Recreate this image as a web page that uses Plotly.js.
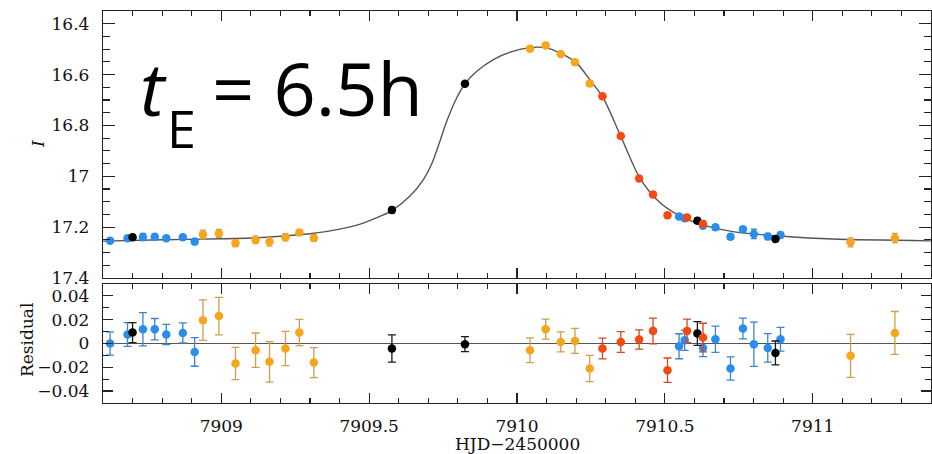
<!DOCTYPE html>
<html><head><meta charset="utf-8">
<script src="https://cdn.plot.ly/plotly-3.0.1.min.js"></script>
<style>html,body{margin:0;padding:0;background:#fff}#chart{width:932px;height:454px}</style>
</head><body><div id="chart"></div>
<script>
// ---- data ----
const blueHJD = [7908.624, 7908.683, 7908.735, 7908.775, 7908.814, 7908.870, 7908.910, 7910.548, 7910.567, 7910.629, 7910.671, 7910.722, 7910.764, 7910.801, 7910.848, 7910.891];
const blueMag = [17.254, 17.244, 17.239, 17.238, 17.244, 17.240, 17.257, 17.158, 17.165, 17.195, 17.201, 17.238, 17.208, 17.227, 17.237, 17.231];
const blueRes = [0.000, 0.0076, 0.012, 0.012, 0.0076, 0.0089, -0.0071, -0.0023, 0.0028, -0.0037, 0.0036, -0.021, 0.0126, -0.0006, -0.0037, 0.0036];
const blueErr = [0.0098, 0.010, 0.014, 0.009, 0.0085, 0.0085, 0.012, 0.0105, 0.0085, 0.0073, 0.011, 0.0098, 0.0087, 0.0186, 0.012, 0.010];

const blackHJD = [7908.700, 7909.577, 7909.824, 7910.610, 7910.874];
const blackMag = [17.240, 17.133, 16.636, 17.175, 17.247];
const blackRes = [0.0092, -0.0042, -0.0006, 0.0084, -0.0079];
const blackErr = [0.0084, 0.0115, 0.0063, 0.010, 0.010];

const orangeHJD = [7908.938, 7908.992, 7909.048, 7909.116, 7909.163, 7909.217, 7909.264, 7909.313, 7910.044, 7910.097, 7910.148, 7910.196, 7910.246, 7911.128, 7911.278];
const orangeMag = [17.229, 17.225, 17.263, 17.250, 17.258, 17.240, 17.221, 17.243, 16.498, 16.486, 16.519, 16.552, 16.635, 17.260, 17.243];
const orangeRes = [0.0196, 0.023, -0.0168, -0.0056, -0.0154, -0.0042, 0.0092, -0.016, -0.0056, 0.012, 0.0013, 0.0022, -0.021, -0.0104, 0.0089];
const orangeErr = [0.017, 0.0157, 0.0136, 0.0144, 0.017, 0.0144, 0.011, 0.0126, 0.0104, 0.0084, 0.0084, 0.0105, 0.011, 0.018, 0.018];

const redHJD = [7910.289, 7910.351, 7910.413, 7910.460, 7910.509, 7910.575, 7910.629];
const redMag = [16.685, 16.842, 17.009, 17.072, 17.153, 17.162, 17.188];
const redRes = [-0.0042, 0.0013, 0.0034, 0.0106, -0.0224, 0.0106, 0.005];
const redErr = [0.0087, 0.0087, 0.0081, 0.0108, 0.0102, 0.0098, 0.012];

const modelHJD = [7908.60, 7908.80, 7909.00, 7909.10, 7909.20, 7909.30, 7909.40, 7909.47, 7909.54, 7909.577, 7909.639, 7909.684, 7909.712, 7909.734, 7909.763, 7909.796, 7909.824, 7909.864, 7909.920, 7909.977, 7910.044, 7910.100, 7910.145, 7910.201, 7910.246, 7910.291, 7910.348, 7910.415, 7910.483, 7910.561, 7910.618, 7910.730, 7910.899, 7911.068, 7911.400];
const modelMag = [17.255, 17.250, 17.246, 17.243, 17.236, 17.226, 17.208, 17.188, 17.156, 17.135, 17.077, 17.012, 16.950, 16.880, 16.782, 16.692, 16.636, 16.587, 16.541, 16.512, 16.494, 16.495, 16.515, 16.554, 16.620, 16.691, 16.835, 17.006, 17.103, 17.162, 17.188, 17.218, 17.236, 17.247, 17.254];

const magTicks = [16.4, 16.6, 16.8, 17, 17.2, 17.4];
const resTicks = [0.04, 0.02, 0, -0.02, -0.04];
const hjdTicks = [7909, 7909.5, 7910, 7910.5, 7911];

// ---- styles ----
const sets = [
  {x: blueHJD, m: blueMag, r: blueRes, e: blueErr, c: '#2b8deb', ec: '#3d84cc'},
  {x: blackHJD, m: blackMag, r: blackRes, e: blackErr, c: '#000000', ec: '#1a1a1a'},
  {x: orangeHJD, m: orangeMag, r: orangeRes, e: orangeErr, c: '#f7a51c', ec: '#cf9e4e'},
  {x: redHJD, m: redMag, r: redRes, e: redErr, c: '#f24a12', ec: '#c94b2a'}
];

const traces = [{
  x: modelHJD, y: modelMag, xaxis: 'x', yaxis: 'y', mode: 'lines',
  line: {color: '#555555', width: 1.4, shape: 'spline', smoothing: 0.8},
  hoverinfo: 'skip', showlegend: false
}];
sets.forEach(s => {
  traces.push({x: s.x, y: s.m, xaxis: 'x', yaxis: 'y', mode: 'markers', type: 'scatter',
    marker: {color: s.c, size: 8.5, line: {width: 0}},
    error_y: {type: 'data', array: s.e, visible: true, color: s.ec, thickness: 1.3, width: 3},
    showlegend: false});
  traces.push({x: s.x, y: s.r, xaxis: 'x2', yaxis: 'y2', mode: 'markers', type: 'scatter',
    marker: {color: s.c, size: 8.5, line: {width: 0}},
    error_y: {type: 'data', array: s.e, visible: true, color: s.ec, thickness: 1.3, width: 4},
    showlegend: false});
});

const tickFont = {family: 'DejaVu Serif', size: 17, color: '#111'};
const L = 103, R = 931, T = 11, B = 403;
const px = v => (v - L) / (R - L);
const py = v => (B - v) / (B - T);

const common = {
  showline: true, linecolor: '#222', linewidth: 1.2, mirror: 'allticks',
  ticks: 'inside', tickcolor: '#222', tickwidth: 1.2, showgrid: false, zeroline: false,
  tickfont: tickFont
};

const layout = {
  width: 932, height: 454,
  margin: {l: L, r: 932 - R, t: T, b: 454 - B},
  paper_bgcolor: '#fff', plot_bgcolor: '#fff',
  showlegend: false,
  xaxis: Object.assign({}, common, {
    anchor: 'y', range: [7908.6, 7911.4], tickmode: 'array', tickvals: hjdTicks,
    showticklabels: false, ticklen: 10,
    minor: {dtick: 0.1, tick0: 7909, ticks: 'inside', ticklen: 5, tickcolor: '#222', tickwidth: 1.1}
  }),
  xaxis2: Object.assign({}, common, {
    anchor: 'y2', range: [7908.6, 7911.4], tickmode: 'array', tickvals: hjdTicks,
    ticktext: hjdTicks.map(String), ticklen: 10, ticklabelstandoff: 7,
    minor: {dtick: 0.1, tick0: 7909, ticks: 'inside', ticklen: 5, tickcolor: '#222', tickwidth: 1.1}
  }),
  yaxis: Object.assign({}, common, {
    anchor: 'x', domain: [0.319, 1], range: [17.4, 16.35], tickmode: 'array',
    tickvals: magTicks, ticktext: magTicks.map(String), ticklen: 12, ticklabelstandoff: 9,
    minor: {dtick: 0.05, tick0: 16.4, ticks: 'inside', ticklen: 7, tickcolor: '#222', tickwidth: 1.1}
  }),
  yaxis2: Object.assign({}, common, {
    anchor: 'x2', domain: [0, 0.3036], range: [-0.05, 0.05], tickmode: 'array',
    tickvals: resTicks, ticktext: resTicks.map(v => v === 0 ? '0' : (v < 0 ? '\u2212' + Math.abs(v) : String(v))),
    ticklen: 10, ticklabelstandoff: 9,
    zeroline: true, zerolinecolor: '#555', zerolinewidth: 1.5,
    minor: {dtick: 0.01, tick0: 0, ticks: 'inside', ticklen: 6, tickcolor: '#222', tickwidth: 1.1}
  }),
  annotations: [
    {xref: 'paper', yref: 'paper', x: px(138), y: py(88), xanchor: 'left', yanchor: 'middle', showarrow: false,
      text: '<i>t</i>', font: {family: 'Open Sans', size: 74, color: '#000'}},
    {xref: 'paper', yref: 'paper', x: px(165), y: py(127), xanchor: 'left', yanchor: 'middle', showarrow: false,
      text: 'E', font: {family: 'Open Sans', size: 52, color: '#000'}},
    {xref: 'paper', yref: 'paper', x: px(210), y: py(88), xanchor: 'left', yanchor: 'middle', showarrow: false,
      text: '= 6.5h', font: {family: 'Open Sans', size: 74, color: '#000'}},
    {xref: 'paper', yref: 'paper', x: px(38), y: py(144), xanchor: 'center', yanchor: 'middle', showarrow: false,
      textangle: -90, text: '<i>I</i>', font: {family: 'DejaVu Serif', size: 17, color: '#111'}},
    {xref: 'paper', yref: 'paper', x: px(27), y: py(340), xanchor: 'center', yanchor: 'middle', showarrow: false,
      textangle: -90, text: 'Residual', font: {family: 'DejaVu Serif', size: 17, color: '#111'}},
    {xref: 'paper', yref: 'paper', x: px(517), y: py(444), xanchor: 'center', yanchor: 'middle', showarrow: false,
      text: 'HJD\u22122450000', font: {family: 'DejaVu Serif', size: 17, color: '#111'}}
  ]
};

Plotly.newPlot('chart', traces, layout, {staticPlot: true, displayModeBar: false});
</script></body></html>
